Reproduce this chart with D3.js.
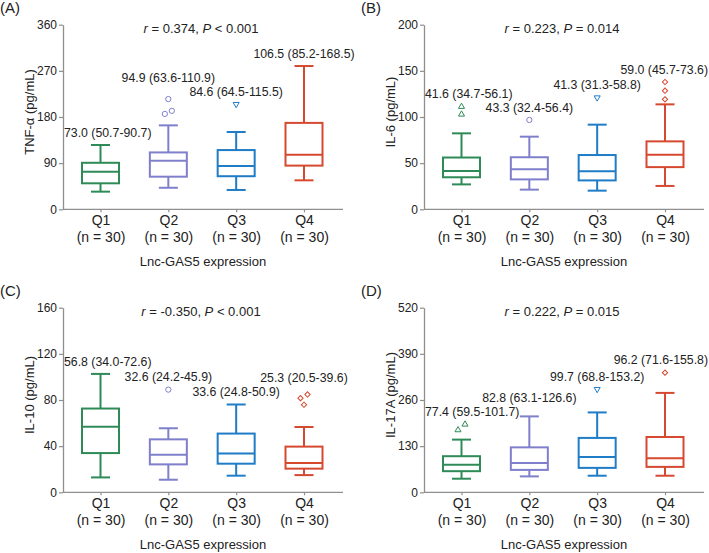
<!DOCTYPE html>
<html>
<head>
<meta charset="utf-8">
<script src="https://cdn.jsdelivr.net/npm/d3@7"></script>
<style>
  html, body { margin: 0; padding: 0; background: #fff; }
  svg { display: block; font-family: "Liberation Sans", Arial, Helvetica, sans-serif; }
</style>
</head>
<body>
<svg id="chart" width="709" height="553"></svg>
<script>
// ---------------- DATA ----------------
const groups = ["Q1", "Q2", "Q3", "Q4"];
const groupN = ["(n = 30)", "(n = 30)", "(n = 30)", "(n = 30)"];
const xTitle = "Lnc-GAS5 expression";
const panelLetters = ["(A)", "(B)", "(C)", "(D)"];
const yTitles = ["TNF-α (pg/mL)", "IL-6 (pg/mL)", "IL-10 (pg/mL)", "IL-17A (pg/mL)"];
const rValues = ["0.374", "0.223", "-0.350", "0.222"];
const pValues = ["< 0.001", "= 0.014", "< 0.001", "= 0.015"];

const yTicksA = [0, 90, 180, 270, 360];
const yTicksB = [0, 50, 100, 150, 200];
const yTicksC = [0, 40, 80, 120, 160];
const yTicksD = [0, 130, 260, 390, 520];

// TNF-α
const lowA    = [34.4, 42.0, 37.7, 56.5];
const q1A     = [50.7, 63.6, 64.5, 85.2];
const medA    = [73.0, 94.9, 84.6, 106.5];
const q3A     = [90.7, 110.9, 115.5, 168.5];
const highA   = [125.4, 163.7, 150.7, 279.4];
const outA    = [[], [215, 192, 186], [205], []];

// IL-6
const lowB    = [27.0, 21.3, 20.2, 25.3];
const q1B     = [34.7, 32.4, 31.3, 45.7];
const medB    = [41.6, 43.3, 41.3, 59.0];
const q3B     = [56.1, 56.4, 58.8, 73.6];
const highB   = [82.3, 78.7, 91.7, 113.7];
const outB    = [[111.2, 102.9], [96.8], [121.0], [137.9, 128.5, 119.1]];

// IL-10
const lowC    = [12.9, 10.9, 14.4, 14.9];
const q1C     = [34.0, 24.2, 24.8, 20.5];
const medC    = [56.8, 32.6, 33.6, 25.3];
const q3C     = [72.6, 45.9, 50.9, 39.6];
const highC   = [102.6, 55.5, 76.1, 56.6];
const outC    = [[], [89.0], [], [84.8, 81.6, 75.9]];

// IL-17A
const lowD    = [38.3, 44.8, 46.7, 46.7];
const q1D     = [59.5, 63.1, 68.8, 71.6];
const medD    = [77.4, 82.8, 99.7, 96.2];
const q3D     = [101.7, 126.6, 153.2, 155.8];
const highD   = [148.4, 213.8, 225.0, 280.0];
const outD    = [[191.4, 175.5], [], [290.4], [337.0]];

// ---------------- BUILD ----------------
const panels = [
  {ticks: yTicksA, low: lowA, q1: q1A, med: medA, q3: q3A, high: highA, out: outA},
  {ticks: yTicksB, low: lowB, q1: q1B, med: medB, q3: q3B, high: highB, out: outB},
  {ticks: yTicksC, low: lowC, q1: q1C, med: medC, q3: q3C, high: highC, out: outC},
  {ticks: yTicksD, low: lowD, q1: q1D, med: medD, q3: q3D, high: highD, out: outD}
];

const colors = ["#2e8b57", "#7f7fcc", "#1f7cc6", "#d5492f"];
const symbols = ["triangleUp", "circle", "triangleDown", "diamond"];
const axisColor = "#8f8f8f";
const textColor = "#222";

const W = 709;
const offsets = [[0, 0], [361, 0], [0, 283], [361, 283]];
const axisX = 63, yTop = 24.7, yBot = 209.3, xRight = 343;
const boxW = 37, capW = 19;

const svg = d3.select("#chart");

function symbolPath(kind) {
  if (kind === "circle") return d3.symbol(d3.symbolCircle, 22)();
  if (kind === "diamond") return d3.symbol(d3.symbolSquare, 14)();
  return d3.symbol(d3.symbolTriangle, 16)();
}
function symbolRot(kind) {
  if (kind === "diamond") return 45;
  if (kind === "triangleDown") return 180;
  return 0;
}

panels.forEach((p, pi) => {
  const g = svg.append("g").attr("transform", `translate(${offsets[pi][0]},${offsets[pi][1]})`);
  const yMax = p.ticks[p.ticks.length - 1];
  const y = d3.scaleLinear().domain([0, yMax]).range([yBot, yTop]);
  const x = d3.scalePoint().domain(groups).range([axisX + 37.5, axisX + 241]);

  // panel letter
  g.append("text").attr("x", 0).attr("y", 13)
    .attr("font-size", 15).attr("fill", textColor).text(panelLetters[pi]);

  // y axis
  const yAxis = g.append("g").attr("transform", `translate(${axisX},0)`)
    .call(d3.axisLeft(y).tickValues(p.ticks).tickSize(4).tickSizeOuter(0).tickPadding(2));
  yAxis.select(".domain").attr("stroke", axisColor).attr("stroke-width", 1.3);
  yAxis.selectAll(".tick line").attr("stroke", axisColor).attr("stroke-width", 1.2);
  yAxis.selectAll(".tick text").attr("font-size", 12).attr("fill", textColor)
    .attr("font-family", "Liberation Sans, Arial, sans-serif");

  // x axis
  g.append("line").attr("x1", axisX).attr("x2", xRight).attr("y1", yBot).attr("y2", yBot)
    .attr("stroke", axisColor).attr("stroke-width", 1.3);
  const xAxis = g.append("g").attr("transform", `translate(0,${yBot})`)
    .call(d3.axisBottom(x).tickSize(3).tickSizeOuter(0).tickPadding(6));
  xAxis.select(".domain").remove();
  xAxis.selectAll(".tick line").attr("stroke", axisColor).attr("stroke-width", 1.2);
  xAxis.selectAll(".tick text").remove();
  xAxis.selectAll(".tick").each(function(d, i) {
    const t = d3.select(this).append("text").attr("fill", textColor)
      .attr("text-anchor", "middle").attr("font-size", 14)
      .attr("font-family", "Liberation Sans, Arial, sans-serif");
    t.append("tspan").attr("x", 0).attr("y", 16).text(d);
    t.append("tspan").attr("x", 0).attr("y", 33).text(groupN[i]);
  });

  // x title
  g.append("text").attr("x", (axisX + xRight) / 2).attr("y", 266)
    .attr("text-anchor", "middle").attr("font-size", 13).attr("fill", textColor).text(xTitle);

  // y title
  g.append("text").attr("transform", `translate(29,112) rotate(-90)`)
    .attr("text-anchor", "middle").attr("dy", "0.35em")
    .attr("font-size", 13).attr("fill", textColor).text(yTitles[pi]);

  // r / P annotation
  const ann = g.append("text").attr("x", 201).attr("y", 33)
    .attr("text-anchor", "middle").attr("font-size", 13).attr("fill", textColor);
  ann.append("tspan").attr("font-style", "italic").text("r");
  ann.append("tspan").text(` = ${rValues[pi]}, `);
  ann.append("tspan").attr("font-style", "italic").text("P");
  ann.append("tspan").text(` ${pValues[pi]}`);

  // boxes
  const labelInfo = [];
  groups.forEach((grp, i) => {
    const cx = x(grp);
    const col = colors[i];
    const bg = g.append("g");
    // whiskers
    bg.append("line").attr("x1", cx).attr("x2", cx).attr("y1", y(p.q3[i])).attr("y2", y(p.high[i]))
      .attr("stroke", col).attr("stroke-width", 2);
    bg.append("line").attr("x1", cx).attr("x2", cx).attr("y1", y(p.q1[i])).attr("y2", y(p.low[i]))
      .attr("stroke", col).attr("stroke-width", 2);
    bg.append("line").attr("x1", cx - capW / 2).attr("x2", cx + capW / 2)
      .attr("y1", y(p.high[i])).attr("y2", y(p.high[i])).attr("stroke", col).attr("stroke-width", 2);
    bg.append("line").attr("x1", cx - capW / 2).attr("x2", cx + capW / 2)
      .attr("y1", y(p.low[i])).attr("y2", y(p.low[i])).attr("stroke", col).attr("stroke-width", 2);
    // box
    bg.append("rect").attr("x", cx - boxW / 2).attr("width", boxW)
      .attr("y", y(p.q3[i])).attr("height", y(p.q1[i]) - y(p.q3[i]))
      .attr("fill", "none").attr("stroke", col).attr("stroke-width", 2);
    bg.append("line").attr("x1", cx - boxW / 2).attr("x2", cx + boxW / 2)
      .attr("y1", y(p.med[i])).attr("y2", y(p.med[i])).attr("stroke", col).attr("stroke-width", 2);

    // outliers, spread horizontally when they nearly overlap
    const outs = p.out[i].slice().sort((a, b) => b - a);
    const offs = outs.map(() => 0);
    for (let k = 0; k < outs.length - 1; k++) {
      if (Math.abs(y(outs[k]) - y(outs[k + 1])) < 6 && offs[k] === 0) {
        offs[k] = 3.5; offs[k + 1] = -3.5;
      }
    }
    outs.forEach((v, k) => {
      bg.append("path").attr("d", symbolPath(symbols[i]))
        .attr("transform", `translate(${cx + offs[k]},${y(v)}) rotate(${symbolRot(symbols[i])})`)
        .attr("fill", "none").attr("stroke", col).attr("stroke-width", 1);
    });

    const topVal = Math.max(p.high[i], ...p.out[i]);
    const txt = `${p.med[i].toFixed(1)} (${p.q1[i].toFixed(1)}-${p.q3[i].toFixed(1)})`;
    labelInfo.push({cx, yc: y(topVal) - 12.5, txt});
  });

  // summary labels with simple clamping / collision avoidance
  const maxRight = W - 1 - offsets[pi][0];
  const labels = labelInfo.map(li => {
    const t = g.append("text").attr("font-size", 12.3).attr("fill", textColor)
      .attr("text-anchor", "start").attr("dy", "0.35em").text(li.txt);
    const w = t.node().getComputedTextLength();
    let left = li.cx - w / 2;
    if (left < axisX + 1) left = axisX + 1;
    if (left + w > maxRight) left = maxRight - w;
    return {node: t, left, right: left + w, yc: li.yc};
  });
  const minSep = 14;
  for (let k = 0; k < labels.length - 1; k++) {
    const a = labels[k], b = labels[k + 1];
    if (a.right > b.left && Math.abs(a.yc - b.yc) < minSep) {
      if (a.yc <= b.yc) a.yc = b.yc - minSep; else b.yc = a.yc - minSep;
    }
  }
  labels.forEach(l => l.node.attr("x", l.left).attr("y", l.yc));
});
</script>
</body>
</html>
